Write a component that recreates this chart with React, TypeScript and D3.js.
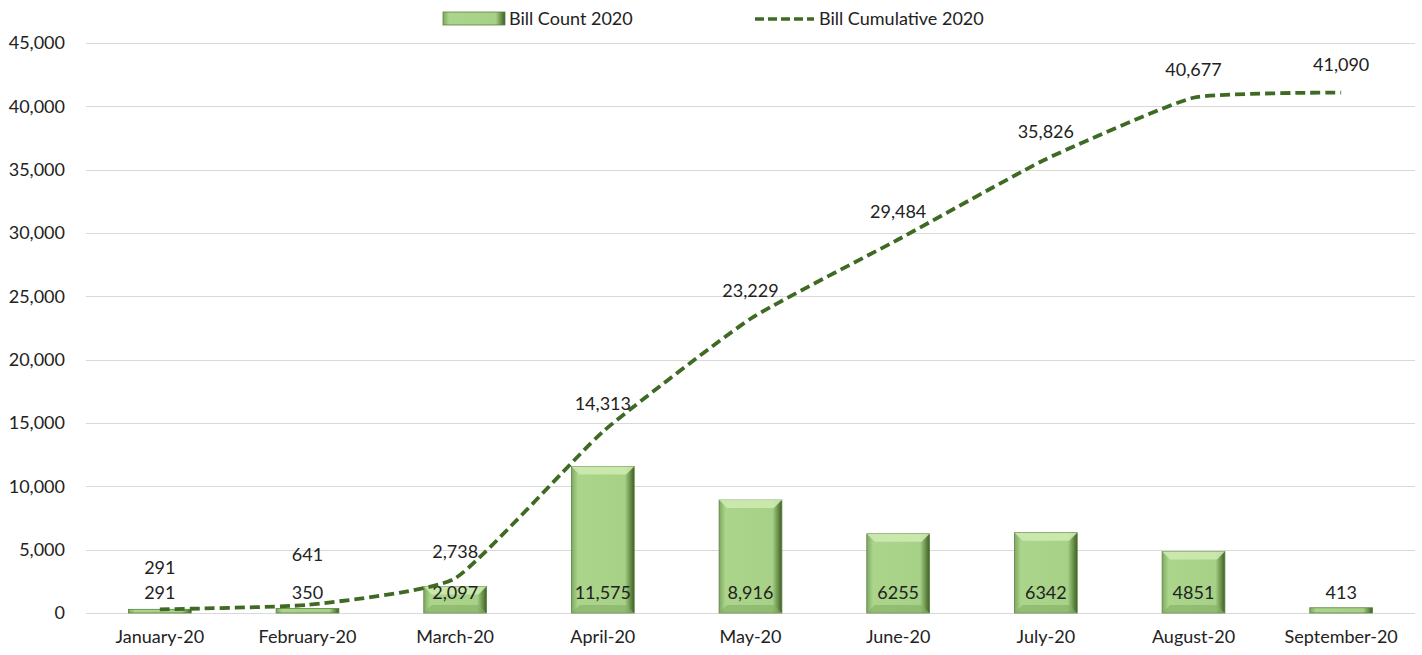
import * as d3 from "d3";
import { useEffect, useRef } from "react";

// chart data
const months = [
  "January-20",
  "February-20",
  "March-20",
  "April-20",
  "May-20",
  "June-20",
  "July-20",
  "August-20",
  "September-20",
];
const billCount = [291, 350, 2097, 11575, 8916, 6255, 6342, 4851, 413];
const billCountLabels = ["291", "350", "2,097", "11,575", "8,916", "6255", "6342", "4851", "413"];
const billCumulative = [291, 641, 2738, 14313, 23229, 29484, 35826, 40677, 41090];
// how far each cumulative label sits above its point (px)
const cumLabelDy = [42, 50, 27, 28, 28, 28, 28, 28, 28];
const yTicks = [0, 5000, 10000, 15000, 20000, 25000, 30000, 35000, 40000, 45000];

const W = 1422;
const H = 655;
const FONT = "Lato, 'Open Sans', sans-serif";

export default function App() {
  const svgRef = useRef<SVGSVGElement>(null);

  useEffect(() => {
    const margin = { top: 43, right: 7, bottom: 42, left: 86 };
    const svg = d3.select(svgRef.current);
    svg.selectAll("*").remove();

    const x = d3
      .scaleBand()
      .domain(months)
      .range([margin.left, W - margin.right])
      .paddingInner(0.575)
      .paddingOuter(0.2875);
    const y = d3.scaleLinear().domain([0, 45000]).range([H - margin.bottom, margin.top]);

    const defs = svg.append("defs");
    const grad = defs
      .append("linearGradient")
      .attr("id", "barGrad")
      .attr("x1", "0")
      .attr("x2", "1")
      .attr("y1", "0")
      .attr("y2", "0");
    grad.append("stop").attr("offset", "0").attr("stop-color", "#7fa860");
    grad.append("stop").attr("offset", "0.1").attr("stop-color", "#aad58b");
    grad.append("stop").attr("offset", "0.85").attr("stop-color", "#a6d186");
    grad.append("stop").attr("offset", "0.93").attr("stop-color", "#6f9650");
    grad.append("stop").attr("offset", "1").attr("stop-color", "#3f5f25");

    // gridlines
    svg
      .append("g")
      .selectAll("line")
      .data(yTicks)
      .enter()
      .append("line")
      .attr("x1", margin.left)
      .attr("x2", W - margin.right)
      .attr("y1", (d) => Math.round(y(d)) + 0.5)
      .attr("y2", (d) => Math.round(y(d)) + 0.5)
      .attr("stroke", "#d9d9d9")
      .attr("stroke-width", 1);

    // y axis labels
    const yAxis = svg
      .append("g")
      .attr("transform", `translate(${margin.left - 18},0)`)
      .call(
        d3
          .axisLeft(y)
          .tickValues(yTicks)
          .tickSize(0)
          .tickFormat((d) => d3.format(",")(d as number))
      );
    yAxis.select(".domain").remove();
    yAxis
      .selectAll("text")
      .attr("font-family", FONT)
      .attr("font-size", 18)
      .attr("fill", "#222");

    // x axis labels
    const xAxis = svg
      .append("g")
      .attr("transform", `translate(0,${H - margin.bottom})`)
      .call(d3.axisBottom(x).tickSize(0).tickPadding(17));
    xAxis.select(".domain").remove();
    xAxis
      .selectAll("text")
      .attr("font-family", FONT)
      .attr("font-size", 18)
      .attr("fill", "#222");

    // bars
    const bars = svg.append("g");
    const bw = x.bandwidth();
    months.forEach((m, i) => {
      const x0 = x(m)!;
      const yt = y(billCount[i]);
      const y0 = y(0);
      const h = y0 - yt;
      const g = bars.append("g");
      g.append("rect")
        .attr("x", x0)
        .attr("y", yt)
        .attr("width", bw)
        .attr("height", h)
        .attr("fill", "url(#barGrad)")
        .attr("stroke", "#5d8040")
        .attr("stroke-width", 0.8);
      const bev = Math.min(8, h / 2);
      if (h > 6) {
        // top bevel
        g.append("path")
          .attr(
            "d",
            `M${x0},${yt}L${x0 + bw},${yt}L${x0 + bw - bev},${yt + bev}L${x0 + bev},${yt + bev}Z`
          )
          .attr("fill", "#cdeab0")
          .attr("opacity", 0.9);
        // bottom bevel
        g.append("path")
          .attr(
            "d",
            `M${x0},${y0}L${x0 + bw},${y0}L${x0 + bw - bev},${y0 - bev}L${x0 + bev},${y0 - bev}Z`
          )
          .attr("fill", "#86ad66")
          .attr("opacity", 0.6);
      }
    });

    // bar labels
    svg
      .append("g")
      .selectAll("text")
      .data(billCountLabels)
      .enter()
      .append("text")
      .attr("x", (d, i) => x(months[i])! + bw / 2)
      .attr("y", y(0) - 14)
      .attr("text-anchor", "middle")
      .attr("font-family", FONT)
      .attr("font-size", 18)
      .attr("fill", "#222")
      .text((d) => d);

    // cumulative line
    const line = d3
      .line<number>()
      .x((d, i) => x(months[i])! + bw / 2)
      .y((d) => y(d))
      .curve(d3.curveCardinal.tension(0.55));
    svg
      .append("path")
      .datum(billCumulative)
      .attr("d", line)
      .attr("fill", "none")
      .attr("stroke", "#3f6a24")
      .attr("stroke-width", 3.8)
      .attr("stroke-dasharray", "10,5");

    // cumulative labels
    svg
      .append("g")
      .selectAll("text")
      .data(billCumulative)
      .enter()
      .append("text")
      .attr("x", (d, i) => x(months[i])! + bw / 2)
      .attr("y", (d, i) => y(d) - cumLabelDy[i] + 6.5)
      .attr("text-anchor", "middle")
      .attr("font-family", FONT)
      .attr("font-size", 18)
      .attr("fill", "#222")
      .text((d) => d3.format(",")(d));

    // legend
    const lg = svg.append("g");
    lg.append("rect")
      .attr("x", 443)
      .attr("y", 12)
      .attr("width", 62)
      .attr("height", 13)
      .attr("fill", "url(#barGrad)")
      .attr("stroke", "#5d8040")
      .attr("stroke-width", 0.8);
    lg.append("text")
      .attr("x", 509)
      .attr("y", 25)
      .attr("font-family", FONT)
      .attr("font-size", 18)
      .attr("fill", "#222")
      .text("Bill Count 2020");
    lg.append("line")
      .attr("x1", 755)
      .attr("x2", 814)
      .attr("y1", 19)
      .attr("y2", 19)
      .attr("stroke", "#3f6a24")
      .attr("stroke-width", 3.5)
      .attr("stroke-dasharray", "9,4");
    lg.append("text")
      .attr("x", 819)
      .attr("y", 25)
      .attr("font-family", FONT)
      .attr("font-size", 18)
      .attr("fill", "#222")
      .text("Bill Cumulative 2020");
  }, []);

  return (
    <svg
      ref={svgRef}
      width={W}
      height={H}
      style={{ position: "absolute", left: 0, top: 0, background: "#fff" }}
    />
  );
}
